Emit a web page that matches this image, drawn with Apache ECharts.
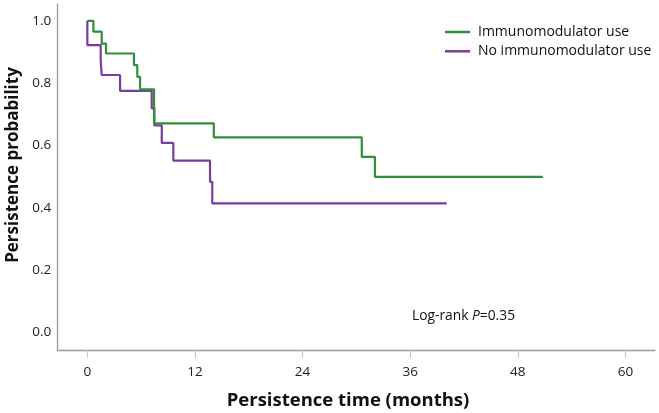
<!DOCTYPE html>
<html>
<head>
<meta charset="utf-8">
<script src="https://cdn.jsdelivr.net/npm/echarts@6/dist/echarts.min.js"></script>
<style>
html,body{margin:0;padding:0;background:#fff;}
#c{width:659px;height:413px;}
</style>
</head>
<body>
<div id="c"></div>
<script>
// Kaplan-Meier steps: [time (months), persistence probability after that time]
var immunoTimes  = [0, 0.67, 1.6, 2.08, 5.2, 5.57, 5.88, 7.44, 14.1, 30.6, 32.07, 50.8];
var immunoProb   = [1.0, 0.965, 0.927, 0.895, 0.858, 0.820, 0.780, 0.671, 0.626, 0.563, 0.499, 0.499];
var noImmunoTimes = [0, 0, 1.49, 1.6, 3.65, 7.18, 7.47, 8.3, 9.59, 13.68, 13.93, 40.07];
var noImmunoProb  = [1.0, 0.922, 0.874, 0.826, 0.775, 0.719, 0.664, 0.608, 0.551, 0.483, 0.414, 0.414];
var xTicks = [0, 12, 24, 36, 48, 60];
var yTicks = [0.0, 0.2, 0.4, 0.6, 0.8, 1.0];
var seriesNames = ['Immunomodulator use', 'No immunomodulator use'];

function pairs(t, p) { return t.map(function (v, i) { return [v, p[i]]; }); }

var FONT = '"Open Sans", "Noto Sans", sans-serif';
var chart = echarts.init(document.getElementById('c'), null, {renderer: 'canvas'});
chart.setOption({
  animation: false,
  backgroundColor: '#ffffff',
  grid: {left: 57.3, right: 4, top: 4, bottom: 63, containLabel: false},
  legend: {
    orient: 'vertical',
    left: 440, top: 19.5,
    itemWidth: 25, itemHeight: 2.5,
    itemGap: 4.3,
    icon: 'rect',
    textStyle: {fontFamily: FONT, fontSize: 14, color: '#111', lineHeight: 15, padding: [0,0,0,3]},
    data: seriesNames
  },
  xAxis: {
    type: 'value',
    min: -3.35, max: 63.3,
    axisLine: {show: true, onZero: false, lineStyle: {color: '#9a9a9a', width: 1.3}},
    axisTick: {show: true, length: 8, customValues: xTicks, lineStyle: {color: '#c8c8c8', width: 1.2}},
    axisLabel: {customValues: xTicks, fontFamily: FONT, fontSize: 13.5, color: '#222', margin: 15},
    splitLine: {show: false}
  },
  yAxis: {
    type: 'value',
    min: -0.057, max: 1.054,
    axisLine: {show: true, onZero: false, lineStyle: {color: '#9a9a9a', width: 1.3}},
    axisTick: {show: false},
    axisLabel: {customValues: yTicks, fontFamily: FONT, fontSize: 13.5, color: '#222', margin: 6,
      formatter: function (v) { return v.toFixed(1); }},
    splitLine: {show: false}
  },
  graphic: [{
    type: 'text',
    left: 412, top: 309,
    style: {
      text: '{a|Log-rank }{b|P}{a|=0.35}',
      rich: {
        a: {fontFamily: FONT, fontSize: 13.8, fill: '#111'},
        b: {fontFamily: FONT, fontSize: 13.8, fontStyle: 'italic', fill: '#111'}
      }
    }
  }, {
    type: 'text',
    x: 348, y: 401,
    style: {
      text: 'Persistence time (months)',
      fontFamily: FONT, fontSize: 18.5, fontWeight: 'bold', fill: '#111',
      align: 'center', verticalAlign: 'middle'
    }
  }, {
    type: 'text',
    x: 13, y: 165,
    rotation: Math.PI / 2,
    style: {
      text: 'Persistence probability',
      fontFamily: FONT, fontSize: 17, fontWeight: 'bold', fill: '#111',
      align: 'center', verticalAlign: 'middle'
    }
  }],
  series: [
    {
      name: seriesNames[1], type: 'line', step: 'end', showSymbol: false, z: 2,
      color: '#7a3c9e',
      lineStyle: {width: 2.2, color: '#7a3c9e'},
      data: pairs(noImmunoTimes, noImmunoProb)
    },
    {
      name: seriesNames[0], type: 'line', step: 'end', showSymbol: false, z: 3,
      color: '#2f8f3a',
      lineStyle: {width: 2.2, color: '#2f8f3a'},
      data: pairs(immunoTimes, immunoProb)
    }
  ]
});
</script>
</body>
</html>
